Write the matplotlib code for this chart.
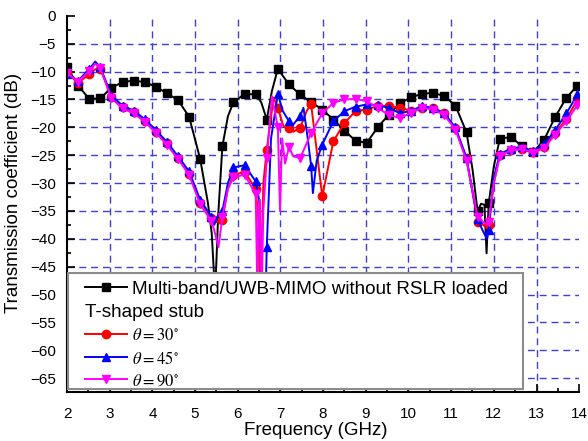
import numpy as np
import matplotlib
matplotlib.use("Agg")
import matplotlib.pyplot as plt
from matplotlib.lines import Line2D
from matplotlib.patches import Rectangle
from matplotlib.ticker import MultipleLocator

plt.rcParams['font.family'] = ['Liberation Sans', 'DejaVu Sans']
plt.rcParams['mathtext.fontset'] = 'stix'

# data (frequency in GHz, S21 in dB)
black_f = [2.00, 2.26, 2.52, 2.78, 3.04, 3.30, 3.56, 3.82, 4.08, 4.34, 4.60, 4.86, 5.12, 5.30,
           5.39, 5.47, 5.54, 5.64, 5.77, 5.90, 6.16, 6.42, 6.55, 6.68, 6.80, 6.94, 7.20, 7.46,
           7.72, 7.98, 8.24, 8.50, 8.76, 9.02, 9.28, 9.54, 9.80, 10.06, 10.32, 10.58, 10.84,
           11.10, 11.36, 11.50, 11.62, 11.70, 11.78, 11.83, 11.88, 12.00, 12.14, 12.40, 12.66,
           12.92, 13.18, 13.44, 13.70, 13.96]
black_db = [-9.2, -12.5, -14.9, -14.8, -12.9, -11.9, -11.6, -11.9, -12.7, -13.9, -15.1, -18.1,
            -25.7, -33.5, -39.0, -50.0, -36.0, -23.4, -18.0, -15.5, -14.0, -14.1, -15.5, -18.6,
            -13.5, -9.5, -12.3, -14.1, -15.5, -16.8, -18.6, -20.6, -22.4, -22.8, -20.0, -17.7,
            -15.7, -14.6, -14.0, -13.8, -14.4, -16.1, -20.9, -27.5, -35.1, -33.7, -33.9, -42.6,
            -33.6, -27.0, -22.1, -21.7, -23.4, -24.5, -22.2, -18.1, -14.7, -12.5]

red_f = [2.00, 2.26, 2.52, 2.66, 2.78, 3.04, 3.30, 3.56, 3.82, 4.08, 4.34, 4.60, 4.86, 5.12,
         5.38, 5.50, 5.64, 5.77, 5.90, 6.16, 6.42, 6.48, 6.53, 6.60, 6.68, 6.84, 6.94, 7.07,
         7.20, 7.30, 7.46, 7.62, 7.72, 7.98, 8.24, 8.50, 8.76, 9.02, 9.28, 9.54, 9.80, 10.06,
         10.32, 10.58, 10.84, 11.10, 11.36, 11.62, 11.75, 11.82, 11.88, 12.00, 12.14, 12.40,
         12.66, 12.92, 13.18, 13.44, 13.70, 13.96]
red_db = [-10.3, -12.0, -10.5, -9.6, -9.5, -14.6, -16.4, -17.3, -18.8, -20.8, -22.9, -25.5,
          -28.3, -33.5, -36.3, -37.0, -36.6, -31.0, -28.5, -28.0, -31.0, -36.0, -52.0, -30.0,
          -24.0, -14.7, -16.5, -19.8, -20.2, -20.8, -20.1, -17.0, -15.9, -32.4, -22.5, -19.2,
          -17.1, -16.8, -16.2, -16.2, -16.5, -17.0, -16.5, -16.5, -17.5, -20.2, -25.5, -37.0,
          -37.5, -38.0, -37.5, -30.0, -25.0, -24.0, -23.8, -24.5, -23.5, -21.0, -18.5, -15.0]

blue_f = [2.00, 2.26, 2.52, 2.66, 2.78, 3.04, 3.30, 3.56, 3.82, 4.08, 4.34, 4.60, 4.86, 5.12,
          5.38, 5.45, 5.52, 5.64, 5.77, 5.90, 6.16, 6.42, 6.50, 6.57, 6.62, 6.66, 6.68, 6.78,
          6.94, 7.05, 7.20, 7.30, 7.46, 7.54, 7.64, 7.72, 7.76, 7.85, 7.98, 8.24, 8.50, 8.76,
          9.02, 9.28, 9.54, 9.80, 10.06, 10.32, 10.58, 10.84, 11.10, 11.36, 11.62, 11.75,
          11.84, 11.88, 12.00, 12.14, 12.40, 12.66, 12.92, 13.18, 13.44, 13.70, 13.96]
blue_db = [-10.5, -11.6, -9.6, -8.2, -9.2, -14.3, -16.1, -17.0, -18.5, -20.5, -22.6, -25.2,
           -27.9, -33.0, -36.0, -37.5, -36.0, -35.0, -30.0, -27.2, -26.8, -29.7, -33.0, -48.0,
           -56.0, -48.0, -41.4, -22.0, -14.0, -17.0, -18.9, -19.5, -18.0, -16.5, -22.0, -27.0,
           -31.8, -26.0, -23.1, -18.9, -17.1, -16.3, -15.9, -16.0, -16.5, -17.5, -17.0, -16.2,
           -16.5, -17.5, -20.0, -25.5, -36.5, -38.7, -40.0, -38.5, -29.0, -24.8, -23.8, -23.5,
           -24.3, -23.0, -20.5, -17.5, -14.1]

mag_f = [2.00, 2.26, 2.52, 2.66, 2.78, 3.04, 3.30, 3.56, 3.82, 4.08, 4.34, 4.60, 4.86, 5.12,
         5.38, 5.45, 5.55, 5.64, 5.77, 5.90, 6.16, 6.42, 6.46, 6.49, 6.52, 6.56, 6.60, 6.68,
         6.80, 6.94, 6.99, 7.04, 7.11, 7.20, 7.30, 7.46, 7.55, 7.72, 7.98, 8.24, 8.50, 8.76,
         9.02, 9.28, 9.54, 9.80, 10.06, 10.32, 10.58, 10.84, 11.10, 11.36, 11.62, 11.75, 11.85,
         11.88, 12.00, 12.14, 12.40, 12.66, 12.92, 13.18, 13.44, 13.70, 13.96]
mag_db = [-10.3, -11.8, -9.9, -8.6, -9.3, -14.8, -16.6, -17.5, -19.0, -21.0, -23.1, -25.7,
          -28.5, -33.8, -36.8, -38.5, -41.5, -36.0, -31.0, -29.0, -28.5, -32.0, -50.0, -34.0,
          -33.0, -50.0, -35.0, -25.5, -14.4, -20.0, -35.0, -22.0, -26.5, -23.5, -25.2, -25.5,
          -24.0, -21.0, -17.5, -15.6, -15.0, -14.9, -15.3, -16.5, -17.8, -18.3, -17.4, -16.5,
          -16.8, -17.8, -20.4, -26.0, -36.0, -37.0, -37.5, -37.0, -30.0, -25.2, -24.1, -23.9,
          -24.6, -23.7, -21.3, -18.9, -16.0]

labels = ["Multi-band/UWB-MIMO without RSLR loaded", "T-shaped stub",
          r"$\theta = 30^{\circ}$", r"$\theta = 45^{\circ}$", r"$\theta = 90^{\circ}$"]

x_grid = np.arange(3, 14, 1)
y_grid = np.arange(-65, 0, 5)


def marker_idx(f, step=0.26):
    # markers sit on a regular 0.26 GHz grid, extra vertices only shape the line
    k = (np.array(f) - 2.0) / step
    return list(np.where(np.abs(k - np.round(k)) < 1e-6)[0])


fig = plt.figure(figsize=(5.88, 4.41), dpi=100)
ax = fig.add_axes([0.114, 0.111, 0.871, 0.853])

l0, = ax.plot(black_f, black_db, color='black', lw=1.4, marker='s', ms=5.5,
              markevery=marker_idx(black_f))
l1, = ax.plot(red_f, red_db, color='#ff0000', lw=1.4, marker='o', ms=6,
              markevery=marker_idx(red_f))
l2, = ax.plot(blue_f, blue_db, color='#0000ff', lw=1.4, marker='^', ms=6,
              markevery=marker_idx(blue_f))
l3, = ax.plot(mag_f, mag_db, color='#ff00ff', lw=1.4, marker='v', ms=6,
              markevery=marker_idx(mag_f))

ax.set_xlim(2, 14)
ax.set_ylim(-67.5, 0)
ax.xaxis.set_major_locator(MultipleLocator(1))
ax.xaxis.set_minor_locator(MultipleLocator(0.5))
ax.yaxis.set_major_locator(MultipleLocator(5))
ax.yaxis.set_minor_locator(MultipleLocator(2.5))
ax.tick_params(which='both', direction='in', width=1.2)
ax.tick_params(which='major', length=6)
ax.tick_params(which='minor', length=3)
ax.tick_params(axis='x', labelsize=11, pad=10.5)
ax.tick_params(axis='y', labelsize=11, pad=8)

# dashed blue grid, no line on the axis edges
grid_kw = dict(color='#4040d4', linestyle=(0, (5, 3.5)), lw=1.0, zorder=1)
ax.vlines(x_grid, -67.5, 0, **grid_kw)
ax.hlines(y_grid, 2, 14, **grid_kw)

ax.spines['top'].set_visible(False)
ax.spines['right'].set_visible(False)
ax.spines['left'].set_linewidth(1.5)
ax.spines['bottom'].set_linewidth(1.5)

ax.set_xlabel("Frequency (GHz)", fontsize=13.5)
ax.set_ylabel("Transmission coefficient (dB)", fontsize=13.5)
ax.xaxis.set_label_coords(0.485, -0.08)
ax.yaxis.set_label_coords(-0.088, 0.53)

# legend box
ax.add_patch(Rectangle((0.002, 0.008), 0.889, 0.308, transform=ax.transAxes,
                       facecolor='white', edgecolor='#8c8c8c', lw=1.5, zorder=4))

blank = Line2D([], [], color='none')
leg = ax.legend([l0, blank, l1, l2, l3], labels, loc='upper left',
                bbox_to_anchor=(0.035, 0.296), borderaxespad=0, borderpad=0,
                fontsize=13.6, handlelength=2.2, handletextpad=0.27,
                labelspacing=0.32, frameon=False)
texts = leg.get_texts()
# second line of the first label starts under the handle
fs_px = 13.6 * fig.dpi / 72
texts[1].set_x(-(2.2 + 0.27) * fs_px)
for t in texts[2:]:
    t.set_fontsize(12)

fig.savefig("out.png", dpi=100)
